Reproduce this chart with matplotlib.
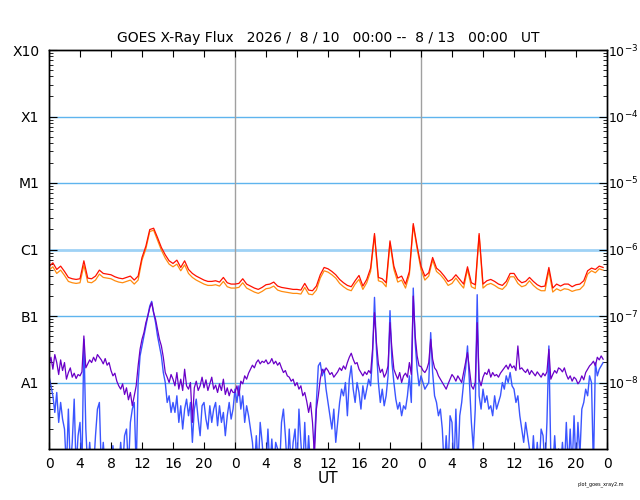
import numpy as np
import matplotlib
matplotlib.use("Agg")
import matplotlib.pyplot as plt
from matplotlib.ticker import LogLocator, NullFormatter, FixedLocator

# log10 flux, long channel (0.1-0.8 nm), 30-min samples from 2026-08-10 00:00 UT
long_primary = [
    -6.26, -6.20, -6.30, -6.25, -6.33, -6.42, -6.44, -6.45,
    -6.44, -6.17, -6.43, -6.44, -6.40, -6.31, -6.36, -6.37,
    -6.38, -6.41, -6.43, -6.44, -6.42, -6.40, -6.46, -6.40,
    -6.12, -5.95, -5.70, -5.68, -5.82, -5.97, -6.08, -6.17,
    -6.21, -6.16, -6.27, -6.17, -6.30, -6.36, -6.40, -6.43,
    -6.46, -6.48, -6.48, -6.47, -6.49, -6.42, -6.50, -6.52,
    # day 2
    -6.52, -6.51, -6.44, -6.52, -6.55, -6.58, -6.60, -6.57,
    -6.53, -6.52, -6.49, -6.55, -6.57, -6.58, -6.59, -6.60,
    -6.60, -6.61, -6.51, -6.61, -6.62, -6.55, -6.38, -6.27,
    -6.29, -6.33, -6.38, -6.45, -6.50, -6.54, -6.56, -6.47,
    -6.39, -6.55, -6.45, -6.28, -5.76, -6.42, -6.44, -6.50,
    -5.87, -6.25, -6.43, -6.40, -6.52, -6.33, -5.61, -5.95,
    # day 3
    -6.25, -6.40, -6.35, -6.12, -6.28, -6.33, -6.40, -6.48,
    -6.45, -6.38, -6.45, -6.52, -6.26, -6.50, -6.53, -5.76,
    -6.52, -6.47, -6.45, -6.48, -6.52, -6.54, -6.48, -6.36,
    -6.36, -6.45, -6.50, -6.48, -6.42, -6.48, -6.53, -6.56,
    -6.55, -6.27, -6.58, -6.52, -6.55, -6.52, -6.52, -6.56,
    -6.53, -6.52, -6.47, -6.32, -6.28, -6.30, -6.25, -6.27,
]

long_secondary = [
    -6.31, -6.26, -6.36, -6.31, -6.39, -6.48, -6.50, -6.51,
    -6.50, -6.24, -6.49, -6.50, -6.46, -6.37, -6.42, -6.43,
    -6.44, -6.47, -6.49, -6.50, -6.48, -6.46, -6.52, -6.46,
    -6.16, -5.99, -5.73, -5.71, -5.86, -6.01, -6.13, -6.22,
    -6.26, -6.22, -6.32, -6.23, -6.36, -6.42, -6.46, -6.49,
    -6.52, -6.54, -6.54, -6.53, -6.55, -6.48, -6.56, -6.58,
    # day 2
    -6.58, -6.57, -6.50, -6.58, -6.61, -6.64, -6.66, -6.63,
    -6.59, -6.58, -6.55, -6.61, -6.63, -6.64, -6.65, -6.66,
    -6.66, -6.67, -6.57, -6.67, -6.68, -6.61, -6.43, -6.32,
    -6.34, -6.38, -6.43, -6.51, -6.56, -6.60, -6.62, -6.52,
    -6.45, -6.60, -6.50, -6.33, -5.79, -6.47, -6.49, -6.56,
    -5.90, -6.30, -6.49, -6.46, -6.58, -6.38, -5.64, -5.99,
    # day 3
    -6.30, -6.46, -6.40, -6.16, -6.33, -6.38, -6.45, -6.54,
    -6.51, -6.43, -6.51, -6.58, -6.30, -6.56, -6.59, -5.79,
    -6.58, -6.53, -6.51, -6.54, -6.58, -6.60, -6.54, -6.41,
    -6.41, -6.51, -6.56, -6.54, -6.47, -6.54, -6.59, -6.62,
    -6.62, -6.32, -6.64, -6.59, -6.62, -6.59, -6.60, -6.63,
    -6.61, -6.60, -6.54, -6.37, -6.32, -6.35, -6.29, -6.31,
]

# log10 flux, short channel (0.05-0.4 nm), 15-min samples
short_primary = [
    -7.75, -7.62, -7.80, -7.58, -7.70, -7.88, -7.66, -7.82,
    -7.70, -7.95, -7.85, -7.78, -7.92, -7.86, -7.94, -7.88,
    -7.90, -7.84, -7.30, -7.78, -7.72, -7.66, -7.70, -7.62,
    -7.68, -7.58, -7.62, -7.66, -7.72, -7.64, -7.74, -7.70,
    -7.82, -7.90, -7.86, -7.98, -8.05, -8.10, -8.02, -8.18,
    -8.08, -8.26, -8.15, -8.35, -8.20, -8.05, -7.75, -7.50,
    -7.35, -7.25, -7.10, -7.00, -6.88, -6.80, -6.95, -7.05,
    -7.20, -7.35, -7.45, -7.62, -7.85, -7.92, -8.00, -7.88,
    -7.95, -8.05, -7.85, -8.10, -7.95, -8.12, -7.80, -8.05,
    -8.10, -8.00, -8.60, -8.08, -7.98, -8.12, -8.05, -7.92,
    -8.08, -7.96, -8.12, -8.02, -7.92, -8.10, -8.04, -8.15,
    -8.02, -8.12, -7.95, -8.18, -8.08, -8.20, -8.10, -8.15,
    # day 2
    -8.15, -8.05, -8.20, -7.98, -8.02, -7.90, -7.95, -7.86,
    -7.80, -7.74, -7.78, -7.70, -7.66, -7.72, -7.68, -7.70,
    -7.66, -7.72, -7.70, -7.64, -7.72, -7.68, -7.74, -7.70,
    -7.78, -7.85, -7.82, -7.90, -7.92, -7.98, -7.95, -8.05,
    -8.00, -8.10, -8.05, -8.20, -8.15, -8.28, -8.45, -8.30,
    -8.60, -9.10, -8.40, -8.20, -7.95, -7.80, -7.85, -7.78,
    -7.82, -7.88, -7.85, -7.92, -7.88, -7.84, -7.78, -7.82,
    -7.75, -7.80, -7.70, -7.62, -7.56, -7.65, -7.72, -7.70,
    -7.80, -7.85, -7.90, -7.84, -7.88, -7.82, -7.86, -7.50,
    -6.95, -7.40, -7.72, -7.85, -7.80, -7.92, -7.86, -7.75,
    -7.10, -7.50, -7.80, -7.88, -7.95, -7.85, -8.00, -7.90,
    -7.86, -7.92, -7.70, -7.88, -6.70, -7.30, -7.60, -7.75,
    # day 3
    -7.76, -7.82, -7.85, -7.80, -7.70, -7.35, -7.65, -7.78,
    -7.82, -7.90, -7.95, -8.00, -8.05, -8.10, -8.02, -7.95,
    -7.88, -7.92, -7.98, -7.90, -7.95, -8.00, -7.85, -7.70,
    -7.55, -7.80, -8.05, -8.10, -8.00, -7.10, -7.95, -8.05,
    -7.92, -7.85, -7.88, -7.80, -7.92, -7.85, -7.90, -7.88,
    -7.92, -7.86, -7.82, -7.78, -7.74, -7.80, -7.72, -7.78,
    -7.75, -7.82, -7.45, -7.80, -7.78, -7.82, -7.85, -7.80,
    -7.88, -7.82, -7.86, -7.90, -7.84, -7.88, -7.92, -7.86,
    -7.90, -7.84, -7.50, -7.95, -7.88, -7.82, -7.86, -7.78,
    -7.80, -7.84, -7.78, -7.88, -7.95, -7.90, -7.98, -7.92,
    -7.95, -8.02, -7.98, -7.90, -7.96, -7.85, -7.80, -7.75,
    -7.72, -7.68, -7.75, -7.62, -7.66, -7.60, -7.65,
]

short_secondary = [
    -7.90, -8.05, -8.20, -8.45, -8.15, -8.60, -8.30, -8.55,
    -8.70, -9.30, -8.40, -9.30, -8.90, -8.25, -9.30, -8.80,
    -8.60, -9.30, -7.35, -8.70, -9.30, -8.90, -9.30, -9.30,
    -8.80, -8.40, -8.30, -9.30, -8.90, -9.30, -9.30, -9.30,
    -9.30, -8.95, -9.30, -9.30, -9.30, -8.90, -9.30, -8.80,
    -8.70, -9.30, -8.60, -8.40, -8.30, -9.30, -8.00, -7.60,
    -7.45, -7.30, -7.15, -7.00, -6.85, -6.78, -6.95, -7.10,
    -7.30, -7.45, -7.60, -7.85, -8.00, -8.30, -8.20, -8.45,
    -8.30, -8.45, -8.20, -8.60, -8.35, -8.70, -8.40, -8.25,
    -8.50, -8.30, -8.90, -8.40, -8.25, -8.55, -8.80, -8.35,
    -8.30, -8.55, -8.70, -8.35, -8.60, -8.40, -8.30, -8.65,
    -8.35, -8.60, -8.45, -8.80, -8.50, -8.30, -8.55, -8.40,
    # day 2
    -8.10, -8.30, -8.05, -8.40, -8.20, -8.60, -8.35, -8.50,
    -8.70, -8.90, -9.30, -8.80, -9.30, -8.60, -8.90, -9.30,
    -9.30, -8.70, -9.30, -8.85, -9.30, -8.90, -9.00, -9.30,
    -8.60, -8.40, -8.80, -9.30, -8.70, -9.30, -8.90, -8.70,
    -9.30, -8.40, -8.90, -9.30, -8.60, -9.30, -8.80, -9.30,
    -9.30, -8.90, -8.30, -7.75, -7.70, -7.90, -7.80, -8.10,
    -8.30, -8.50, -8.70, -8.40, -8.90, -8.60, -8.30, -8.10,
    -8.20, -8.00, -8.50, -7.95, -7.75, -8.10, -8.30, -8.00,
    -8.15, -8.40, -8.05, -8.25, -8.10, -7.95, -8.05, -7.60,
    -6.72, -7.50, -8.00, -8.30, -8.10, -8.35, -8.20, -7.90,
    -6.92, -7.70, -8.00, -8.25, -8.40, -8.30, -8.50, -8.35,
    -8.40, -8.20, -7.90, -8.30, -6.58, -7.40, -7.80, -8.05,
    # day 3
    -7.90, -8.00, -8.10, -8.05, -8.00, -7.25, -7.85, -8.20,
    -8.30, -8.50, -8.40, -8.70, -9.30, -8.80, -9.30, -8.50,
    -8.60, -9.30, -8.40, -9.30, -8.50, -8.30, -8.00, -7.80,
    -7.45, -8.00, -8.60, -9.00, -8.40, -6.68, -8.20, -8.40,
    -8.10, -8.30, -8.20, -8.40, -8.35, -8.50, -8.20, -8.40,
    -8.30, -8.20, -8.00, -8.10, -7.90, -8.00, -7.85, -8.05,
    -8.10, -8.30, -8.20, -8.50, -8.70, -8.90, -8.60, -8.80,
    -9.00, -9.30, -8.80, -9.30, -8.90, -9.30, -8.70, -8.80,
    -9.30, -8.60, -7.45, -9.10, -9.30, -8.80, -9.30, -9.00,
    -9.30, -8.90, -9.30, -8.60, -9.30, -8.70, -9.30, -8.50,
    -9.30, -8.60, -9.10, -8.40, -8.30, -8.10, -8.20, -7.90,
    -8.00, -9.30, -7.70, -7.90, -7.80, -7.75, -7.70,
]

hour_ticks = np.arange(0, 73, 4)
hour_labels = [str(h % 24) for h in hour_ticks]
class_levels = [1e-8, 1e-7, 1e-6, 1e-5, 1e-4, 1e-3]
class_names = ["A1", "B1", "C1", "M1", "X1", "X10"]
title = "GOES X-Ray Flux   2026 /  8 / 10   00:00 --  8 / 13   00:00   UT"

t_long = np.arange(len(long_primary)) * 0.5
t_short = np.arange(len(short_primary)) * 0.25

fig = plt.figure(figsize=(6.4, 5.0), dpi=100)
ax = fig.add_axes([49 / 640, 51 / 500, 558 / 640, 399 / 500])

# class lines and day boundaries
for lv in class_levels[:-1]:
    if lv == 1e-6:
        ax.axhline(lv, color="#9fd2f5", lw=2.0, zorder=1)
    else:
        ax.axhline(lv, color="#5fb4ee", lw=1.0, zorder=1)
for d in [24, 48]:
    ax.axvline(d, color="#a0a0a0", lw=1.0, zorder=1)

ax.plot(t_short, 10.0 ** np.array(short_secondary), color="#3b55ff", lw=1.0, zorder=2)
ax.plot(t_short, 10.0 ** np.array(short_primary), color="#6a00c8", lw=0.9, zorder=3)
ax.plot(t_long, 10.0 ** np.array(long_secondary), color="#ff8c10", lw=0.9, zorder=4)
ax.plot(t_long, 10.0 ** np.array(long_primary), color="#ff1000", lw=0.9, zorder=5)

ax.set_yscale("log")
ax.set_ylim(1e-9, 1e-3)
ax.set_xlim(0, 72)

ax.set_xticks(hour_ticks)
ax.set_xticklabels(hour_labels, fontsize=10)
ax.tick_params(axis="x", direction="in", length=5, top=True, pad=6)
ax.set_xlabel("UT", fontsize=11, labelpad=0)

ax.yaxis.set_major_locator(FixedLocator(class_levels))
ax.set_yticklabels(class_names, fontsize=10)
ax.yaxis.set_minor_locator(LogLocator(base=10, subs=np.arange(2, 10)))
ax.yaxis.set_minor_formatter(NullFormatter())
ax.tick_params(axis="y", which="both", direction="in", right=True, pad=7)
ax.tick_params(axis="y", which="major", length=6)
ax.tick_params(axis="y", which="minor", length=3)

ax2 = ax.twinx()
ax2.set_yscale("log")
ax2.set_ylim(1e-9, 1e-3)
ax2.yaxis.set_major_locator(FixedLocator(class_levels))
ax2.set_yticklabels([r"$10^{%d}$" % e for e in range(-8, -2)], fontsize=9)
ax2.yaxis.set_minor_locator(LogLocator(base=10, subs=np.arange(2, 10)))
ax2.yaxis.set_minor_formatter(NullFormatter())
ax2.tick_params(axis="y", which="both", direction="in", pad=1)
ax2.tick_params(axis="y", which="major", length=6)
ax2.tick_params(axis="y", which="minor", length=3)

for a in (ax, ax2):
    for s in a.spines.values():
        s.set_linewidth(1.0)

ax.set_title(title, fontsize=10, pad=6)
fig.text(0.975, 0.032, "plot_goes_xray2.m", fontsize=3.5, ha="right", va="center")

fig.savefig("out.png", dpi=100)
